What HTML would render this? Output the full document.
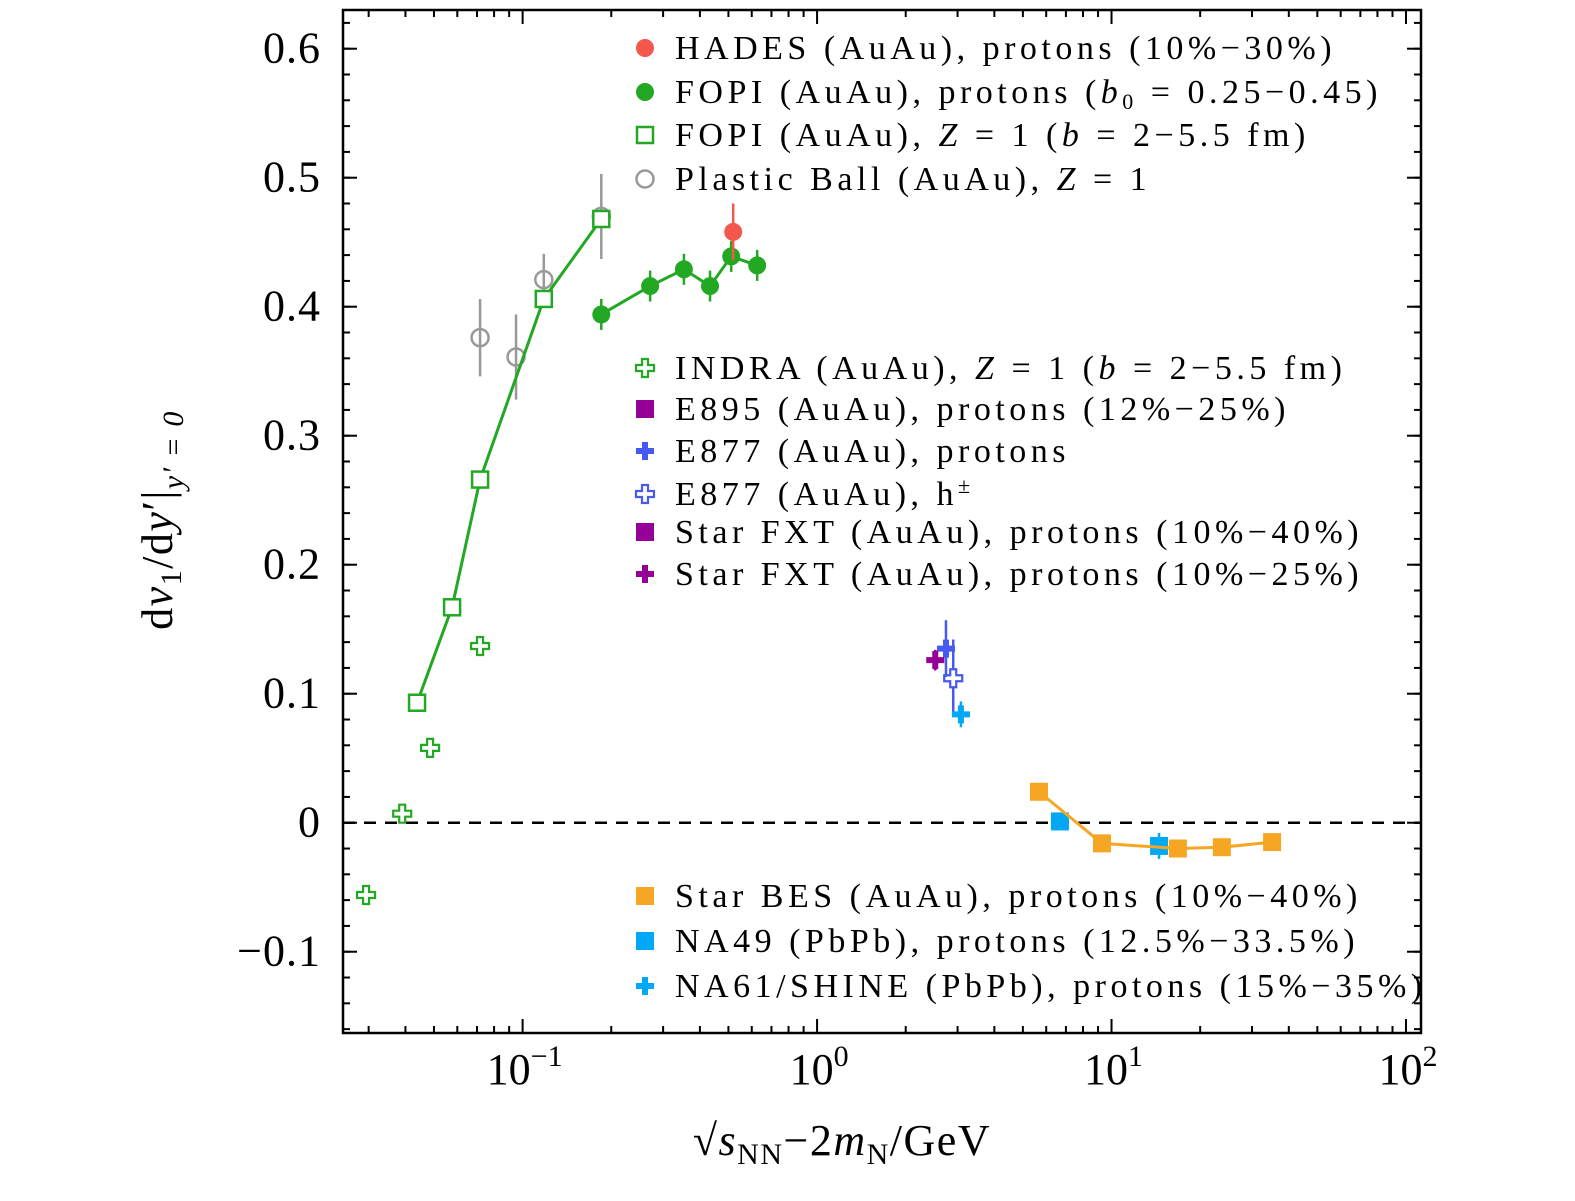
<!DOCTYPE html>
<html><head><meta charset="utf-8"><style>
html,body{margin:0;padding:0;background:#fff;}
svg{display:block;font-family:"Liberation Serif",serif;}
</style></head><body>
<svg id="chart" width="1575" height="1201" viewBox="0 0 1575 1201" xmlns="http://www.w3.org/2000/svg">
<g id="grid"></g>
<g id="marks"></g>
<g id="legend"></g>
<rect x="343" y="10" width="1078" height="1023" fill="none" stroke="#000" stroke-width="2.5"/>
<g id="axes"></g>
<text x="842" y="1155" font-size="44" text-anchor="middle" letter-spacing="1.5">√<tspan font-style="italic">s</tspan><tspan font-size="30" dy="9">NN</tspan><tspan dy="-9">−2</tspan><tspan font-style="italic">m</tspan><tspan font-size="30" dy="9">N</tspan><tspan dy="-9">/GeV</tspan></text>
<text transform="translate(172,520) rotate(-90)" font-size="44" text-anchor="middle" letter-spacing="1.5">d<tspan font-style="italic">v</tspan><tspan font-size="30" dy="9">1</tspan><tspan dy="-9">/d</tspan><tspan font-style="italic">y</tspan>′|<tspan font-size="30" dy="11" font-style="italic">y′ = 0</tspan></text>
</svg>
<script>
const NS="http://www.w3.org/2000/svg";
const X0=343,X1=1421,Y0=10,Y1=1033;
const LOGMIN=-1.610,LOGMAX=2.051,YMIN=-0.163,YMAX=0.630;
function sx(v){return X0+(Math.log10(v)-LOGMIN)/(LOGMAX-LOGMIN)*(X1-X0);}
function sy(v){return Y1-(v-YMIN)/(YMAX-YMIN)*(Y1-Y0);}

const yTicks=[-0.1,0,0.1,0.2,0.3,0.4,0.5,0.6];
const yTickLabels=["−0.1","0","0.1","0.2","0.3","0.4","0.5","0.6"];
const xTicks=[0.1,1,10,100];
const xTickExp=["−1","0","1","2"];

const fopiZX=[0.0438,0.0576,0.0717,0.118,0.185];
const fopiZY=[0.093,0.167,0.266,0.406,0.468];
const fopiPX=[0.185,0.271,0.353,0.433,0.511,0.626];
const fopiPY=[0.394,0.416,0.429,0.416,0.439,0.432];
const fopiPE=[0.012,0.012,0.012,0.012,0.012,0.012];
const hadesX=[0.519];const hadesY=[0.458];const hadesE=[0.022];
const pbX=[0.0717,0.095,0.118,0.185];
const pbY=[0.376,0.361,0.421,0.470];
const pbE=[0.030,0.033,0.020,0.033];
const indraX=[0.0294,0.039,0.0485,0.0717];
const indraY=[-0.056,0.007,0.058,0.137];
const e877pX=[2.74];const e877pY=[0.135];const e877pE=[0.022];
const e877hX=[2.90];const e877hY=[0.112];const e877hE=[0.030];
const fxtX=[2.52];const fxtY=[0.126];const fxtE=[0.008];
const na61X=[3.08];const na61Y=[0.084];const na61E=[0.010];
const besX=[5.67,9.28,16.8,23.7,35.1];
const besY=[0.024,-0.016,-0.020,-0.019,-0.015];
const na49X=[6.68,14.5];const na49Y=[0.001,-0.018];const na49E=[0.006,0.010];

const GREEN="#22a822",ORANGE="#f5a623",CYAN="#00a8f5",RED="#f4574b",PURPLE="#960096",BLUE="#4659f0",GREY="#999";
const grid=document.getElementById('grid'),marks=document.getElementById('marks'),axes=document.getElementById('axes'),legend=document.getElementById('legend');
function el(tag,attrs,parent){const e=document.createElementNS(NS,tag);for(const k in attrs)e.setAttribute(k,attrs[k]);parent.appendChild(e);return e;}

const zl=el('line',{x1:X0,x2:X1,y1:sy(0),y2:sy(0),stroke:'#000','stroke-width':2.5,'stroke-dasharray':'12,9'},grid);



for(let i=0;i<yTicks.length;i++){
  const y=sy(yTicks[i]);
  el('line',{x1:X0,x2:X0+14,y1:y,y2:y,stroke:'#000','stroke-width':2},axes);
  el('line',{x1:X1,x2:X1-14,y1:y,y2:y,stroke:'#000','stroke-width':2},axes);
  const t=el('text',{x:X0-22,y:y+14,'font-size':44,'text-anchor':'end','letter-spacing':'1'},axes);
  t.textContent=yTickLabels[i];
  
  
}
for(let v=-0.16;v<=0.63;v+=0.02){
  const y=sy(v);el('line',{x1:X0,x2:X0+7,y1:y,y2:y,stroke:'#000','stroke-width':2},axes);
  el('line',{x1:X1,x2:X1-7,y1:y,y2:y,stroke:'#000','stroke-width':2},axes);
}
for(let i=0;i<xTicks.length;i++){
  const x=sx(xTicks[i]);
  el('line',{x1:x,x2:x,y1:Y1,y2:Y1-14,stroke:'#000','stroke-width':2},axes);
  el('line',{x1:x,x2:x,y1:Y0,y2:Y0+14,stroke:'#000','stroke-width':2},axes);
  const t=el('text',{x:x+2,y:1084,'font-size':44,'text-anchor':'middle'},axes);
  t.innerHTML='10<tspan font-size="30" dy="-18">'+xTickExp[i]+'</tspan>';
  
  
}
for(let d=-2;d<=2;d++)for(let m=2;m<=9;m++){
  const v=m*Math.pow(10,d);const lv=Math.log10(v);if(lv<LOGMIN||lv>LOGMAX)continue;
  const x=sx(v);el('line',{x1:x,x2:x,y1:Y1,y2:Y1-7,stroke:'#000','stroke-width':2},axes);
  el('line',{x1:x,x2:x,y1:Y0,y2:Y0+7,stroke:'#000','stroke-width':2},axes);
}

function marker(type,color,cx,cy,parent){
  let g;
  if(type==='sq'){g=el('rect',{x:cx-9,y:cy-9,width:18,height:18,fill:color},parent);}
  else if(type==='osq'){g=el('rect',{x:cx-8,y:cy-8,width:16,height:16,fill:'#fff',stroke:color,'stroke-width':2.5},parent);}
  else if(type==='dot'){g=el('circle',{cx:cx,cy:cy,r:9,fill:color},parent);}
  else if(type==='odot'){g=el('circle',{cx:cx,cy:cy,r:8.5,fill:'none',stroke:color,'stroke-width':2.5},parent);}
  else if(type==='plus'){g=el('path',{d:`M${cx-3},${cy-9}h6v6h6v6h-6v6h-6v-6h-6v-6h6z`,fill:color},parent);}
  else if(type==='oplus'){g=el('path',{d:`M${cx-3},${cy-9}h6v6h6v6h-6v6h-6v-6h-6v-6h6z`,fill:'#fff',stroke:color,'stroke-width':2.2},parent);}
  return g;
}
function series(name,type,color,xs,ys,es,line){
  const g=el('g',{},marks);
  
  
  if(line){el('polyline',{points:xs.map((x,i)=>sx(x)+','+sy(ys[i])).join(' '),fill:'none',stroke:color,'stroke-width':3},g);}
  for(let i=0;i<xs.length;i++){
    if(es){el('line',{x1:sx(xs[i]),x2:sx(xs[i]),y1:sy(ys[i]-es[i]),y2:sy(ys[i]+es[i]),stroke:type==='odot'?GREY:color,'stroke-width':2.5},g);}
    const m=marker(type,color,sx(xs[i]),sy(ys[i]),g);
    
    
  }
}
series('plastic-ball','odot',GREY,pbX,pbY,pbE,false);
series('fopi-z1','osq',GREEN,fopiZX,fopiZY,null,true);
series('fopi-protons','dot',GREEN,fopiPX,fopiPY,fopiPE,true);
series('hades','dot',RED,hadesX,hadesY,hadesE,false);
series('indra','oplus',GREEN,indraX,indraY,null,false);
series('e877-h','oplus',BLUE,e877hX,e877hY,e877hE,false);
series('e877-protons','plus',BLUE,e877pX,e877pY,e877pE,false);
series('star-fxt-protons','plus',PURPLE,fxtX,fxtY,fxtE,false);
series('na61','plus',CYAN,na61X,na61Y,na61E,false);
series('na49','sq',CYAN,na49X,na49Y,na49E,false);
series('star-bes','sq',ORANGE,besX,besY,null,true);

const legItems=[
 ['dot',RED,48,'HADES (AuAu), protons (10%−30%)'],
 ['dot',GREEN,92,'FOPI (AuAu), protons (<tspan font-style="italic">b</tspan><tspan font-size="22" dy="6">0</tspan><tspan dy="-6"> = 0.25−0.45)</tspan>'],
 ['osq',GREEN,135,'FOPI (AuAu), <tspan font-style="italic">Z</tspan> = 1 (<tspan font-style="italic">b</tspan> = 2−5.5 fm)'],
 ['odot',GREY,179,'Plastic Ball (AuAu), <tspan font-style="italic">Z</tspan> = 1'],
 ['oplus',GREEN,368,'INDRA (AuAu), <tspan font-style="italic">Z</tspan> = 1 (<tspan font-style="italic">b</tspan> = 2−5.5 fm)'],
 ['sq',PURPLE,409,'E895 (AuAu), protons (12%−25%)'],
 ['plus',BLUE,451,'E877 (AuAu), protons'],
 ['oplus',BLUE,494,'E877 (AuAu), h<tspan font-size="22" dy="-12">±</tspan>'],
 ['sq',PURPLE,532,'Star FXT (AuAu), protons (10%−40%)'],
 ['plus',PURPLE,574,'Star FXT (AuAu), protons (10%−25%)'],
 ['sq',ORANGE,896,'Star BES (AuAu), protons (10%−40%)'],
 ['sq',CYAN,941,'NA49 (PbPb), protons (12.5%−33.5%)'],
 ['plus',CYAN,986,'NA61/SHINE (PbPb), protons (15%−35%)']
];
for(const it of legItems){
  const g=el('g',{},legend);
  
  
  marker(it[0],it[1],645,it[2],g);
  const t=el('text',{x:675,y:it[2]+11,'font-size':34,'letter-spacing':'4.5'},g);
  t.innerHTML=it[3];
}
</script>
</body></html>
